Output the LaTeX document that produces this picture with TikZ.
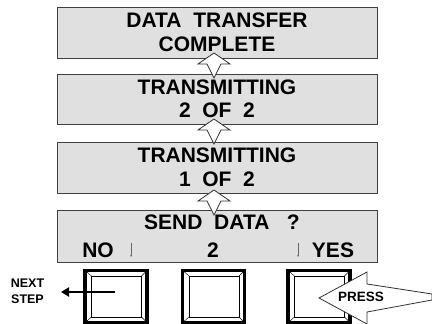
\documentclass[tikz,border=0pt]{standalone}
\usepackage{fontspec}
\setmainfont{Liberation Sans}
\usetikzlibrary{arrows.meta,calc}

\tikzset{
    screen/.style={draw=black!75, fill=black!12, line width=0.8pt, minimum width=320pt,
        minimum height=51pt, inner sep=0pt, align=center,
        font=\bfseries\fontsize{21}{23.5}\selectfont},
    lbl/.style={inner sep=0pt, font=\bfseries\fontsize{21}{23}\selectfont},
    keycap/.style={draw, line width=3.2pt, minimum width=62pt, minimum height=52pt, inner sep=0pt},
    pics/uparrow/.style={code={
        \draw[fill=white, draw=black!80, line width=0.8pt]
            (0,0) -- (16,11) -- (7,11) -- (0,25) -- (-7,11) -- (-16,11) -- cycle;
    }},
}

\begin{document}
\begin{tikzpicture}[x=1pt, y=-1pt]
    \useasboundingbox (0,0) rectangle (432,324);

    % screens, top to bottom
    \node[screen] (done) at (217,32.5) {DATA\ \ TRANSFER\\COMPLETE};
    \node[screen, minimum height=50pt] (tx2) at (217,99) {TRANSMITTING\\2\ \ OF\ \ 2};
    \node[screen] (tx1) at (217,167.5) {TRANSMITTING\\1\ \ OF\ \ 2};
    \node[screen, minimum height=52pt] (send) at (217,236) {};
    \node[lbl] (ask) at (222,222) {SEND\ \ DATA\ \ \ ?};
    \node[lbl] (no) at (98,250) {NO};
    \node[lbl] (num) at (213,250) {2};
    \node[lbl] (yes) at (333,250) {YES};
    \draw[black!60, thin, -{Stealth[length=2pt, width=1.5pt]}] (131,243) -- (131,257);
    \draw[black!60, thin, -{Stealth[length=2pt, width=1.5pt]}] (298,243) -- (298,257);

    % hollow arrows between screens
    \foreach \ty in {53,119,190}
        \pic at (214,\ty) {uparrow};

    % keys
    \foreach \cx/\nm in {116/kno, 213.5/kmid, 319/kyes} {
        \node[keycap] (\nm) at (\cx,296.5) {};
        \draw[thin] ($(\nm.north west)+(8,7)$) rectangle ($(\nm.south east)+(-7,-7)$);
        \draw[thin] (\nm.north west) -- ++(8,7);
        \draw[thin] (\nm.north east) -- ++(-7,7);
        \draw[thin] (\nm.south west) -- ++(8,-7);
        \draw[thin] (\nm.south east) -- ++(-7,-7);
    }

    % next step
    \node[inner sep=0pt, align=center, font=\bfseries\fontsize{12.5}{16}\selectfont] (next) at (27.5,291) {NEXT\\STEP};
    \draw[line width=2.6pt, -{Triangle[length=8pt, width=9pt]}] ($(kno.center)+(-1,-4.5)$) -- ++(-54,0);

    % press arrow
    \draw[fill=white, draw=black!80, line width=0.8pt]
        (319,298) -- (367,272) -- (367,284) -- (432,294) -- (432,300)
        -- (367,312) -- (367,324) -- cycle;
    \node[inner sep=0pt, font=\bfseries\fontsize{13.5}{15}\selectfont] (press) at (361,297) {PRESS};
\end{tikzpicture}
\end{document}
